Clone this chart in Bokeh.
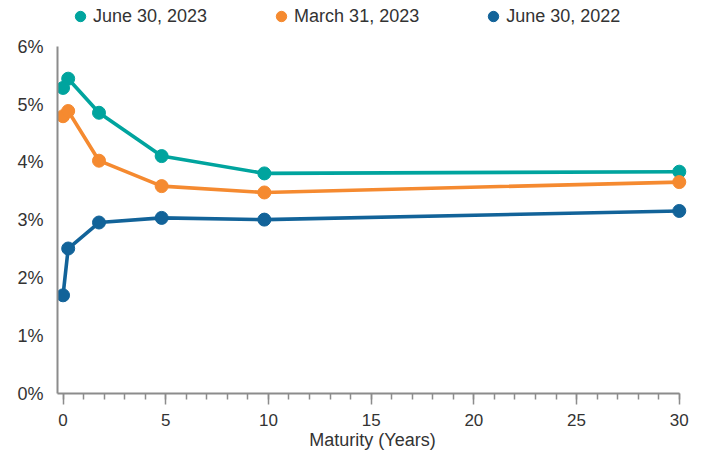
from bokeh.plotting import figure
from bokeh.models import (Legend, LegendItem, FixedTicker, PrintfTickFormatter, Range1d)
from bokeh.embed import file_html
from bokeh.resources import INLINE

# ---- data ----
maturity = [0.0, 0.25, 1.75, 4.8, 9.8, 30.0]          # years
jun_2023 = [5.29, 5.45, 4.86, 4.11, 3.81, 3.84]        # %
mar_2023 = [4.80, 4.89, 4.03, 3.59, 3.48, 3.66]        # %
jun_2022 = [1.70, 2.51, 2.96, 3.04, 3.01, 3.16]        # %

series_names = ["June 30, 2023", "March 31, 2023", "June 30, 2022"]
series_values = [jun_2023, mar_2023, jun_2022]
series_colors = ["#00A49E", "#F58A30", "#126399"]

x_ticks = [0, 5, 10, 15, 20, 25, 30]
y_ticks = [0, 1, 2, 3, 4, 5, 6]

FONT = "Liberation Sans"
TXT = "#333333"
AXIS = "#8c8c8c"

FW, FH = 630, 392
Y_TOP = 6.786   # headroom above 6% holds the legend row

p = figure(frame_width=FW, frame_height=FH, output_backend="svg", toolbar_location=None,
           x_range=Range1d(-0.27, 30.4), y_range=Range1d(0, Y_TOP),
           min_border_left=57, min_border_right=9, min_border_top=1,
           min_border_bottom=10)
p.outline_line_color = None
p.xgrid.visible = False
p.ygrid.visible = False
p.background_fill_color = "white"
p.border_fill_color = "white"

renderers = []
for name, vals, col in zip(series_names, series_values, series_colors):
    p.line(maturity, vals, line_color=col, line_width=3.6)
    r = p.scatter(maturity, vals, size=13, fill_color=col, line_color=col, marker="circle")
    renderers.append(r)

# x axis
xa = p.xaxis[0]
xa.ticker = FixedTicker(ticks=x_ticks, minor_ticks=list(range(0, 31)))
xa.bounds = (-0.27, 30)
xa.axis_line_color = AXIS
xa.axis_line_width = 2
xa.major_tick_line_color = AXIS
xa.major_tick_line_width = 1.5
xa.minor_tick_line_color = AXIS
xa.minor_tick_line_width = 1.5
xa.major_tick_out = 11
xa.major_tick_in = 0
xa.minor_tick_out = 6
xa.minor_tick_in = 0
xa.major_label_standoff = 9
xa.major_label_text_font = FONT
xa.major_label_text_font_size = "17px"
xa.major_label_text_color = TXT
xa.axis_label = "Maturity (Years)"
xa.axis_label_text_font = FONT
xa.axis_label_text_font_size = "18px"
xa.axis_label_text_font_style = "normal"
xa.axis_label_text_color = TXT
xa.axis_label_standoff = 1

# y axis
ya = p.yaxis[0]
ya.ticker = FixedTicker(ticks=y_ticks, minor_ticks=[])
ya.formatter = PrintfTickFormatter(format="%d%%")
ya.bounds = (0, 6)
ya.axis_line_color = AXIS
ya.axis_line_width = 2
ya.major_tick_line_color = None
ya.minor_tick_line_color = None
ya.major_tick_out = 0
ya.major_tick_in = 0
ya.major_label_standoff = 14
ya.major_label_text_font = FONT
ya.major_label_text_font_size = "18px"
ya.major_label_text_color = TXT

GH = 26
legend = Legend(items=[LegendItem(label=n, renderers=[r]) for n, r in zip(series_names, renderers)],
                orientation="horizontal", location=(10, FH - 2 - GH),
                padding=0, margin=0,
                spacing=61, glyph_width=GH, glyph_height=GH, label_standoff=0,
                label_text_font=FONT, label_text_font_size="18px", label_text_color=TXT,
                border_line_color=None, background_fill_alpha=0)
p.add_layout(legend, "center")

open("out.html", "w").write(file_html(p, INLINE))
